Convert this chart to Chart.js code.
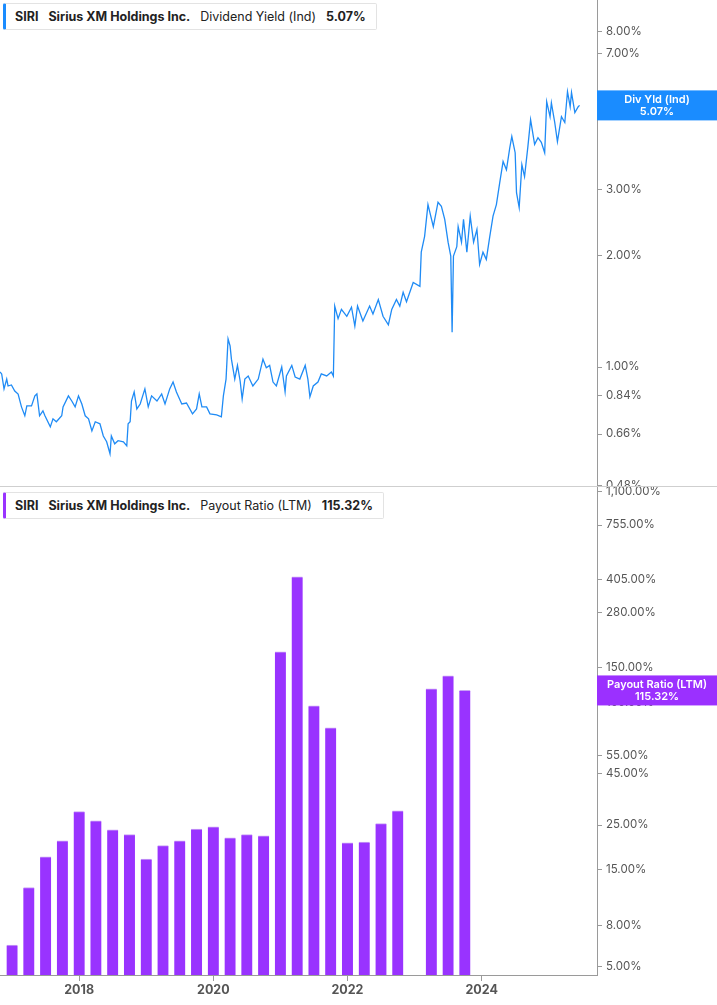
<!DOCTYPE html>
<html>
<head>
<meta charset="utf-8">
<script src="https://cdn.jsdelivr.net/npm/chart.js@4.4.1/dist/chart.umd.min.js"></script>
<style>
  body { margin: 0; background: #fff; font-family: Inter, "Noto Sans", sans-serif; }
  .pane { position: absolute; left: 0; width: 717px; }
  #top { top: 0; height: 487px; border-bottom: 1px solid #cfcfcf; box-sizing: border-box; }
  #bottom { top: 487px; height: 518px; }
  .legend { position: absolute; left: 3px; height: 25px; padding: 0 10px 0 9px; border: 1px solid #e3e3e3;
            border-left: 3px solid #1a8cff; border-radius: 2px; background: #fff; font-size: 12.5px; line-height: 25px;
            color: #222; white-space: nowrap; z-index: 2; }
  .legend b { font-weight: 700; margin-right: 10px; }
  .legend span { margin-right: 10px; }
</style>
</head>
<body>
<div class="pane" id="top"><canvas id="yieldChart"></canvas></div>
<div class="pane" id="bottom"><canvas id="payoutChart"></canvas></div>
<div class="legend" style="top:3px;"><b>SIRI</b><b>Sirius XM Holdings Inc.</b><span>Dividend Yield (Ind)</span><b style="margin-right:0">5.07%</b></div>
<div class="legend" style="top:492px;border-left-color:#9933ff;"><b>SIRI</b><b>Sirius XM Holdings Inc.</b><span>Payout Ratio (LTM)</span><b style="margin-right:0">115.32%</b></div>
<script>
// Dividend yield (%), dates as decimal years
const yieldDates = [2016.82,2016.845,2016.88,2016.92,2016.94,2016.99,2017.04,2017.09,2017.14,2017.19,2017.22,2017.29,2017.34,2017.37,2017.41,2017.46,2017.49,2017.57,2017.61,2017.66,2017.74,2017.76,2017.84,2017.89,2017.94,2017.99,
  2018.04,2018.09,2018.14,2018.19,2018.24,2018.31,2018.36,2018.41,2018.46,2018.48,2018.53,2018.58,2018.66,2018.71,2018.73,2018.76,2018.78,2018.82,2018.86,2018.91,2018.98,
  2019.03,2019.08,2019.16,2019.23,2019.28,2019.35,2019.40,2019.45,2019.53,2019.60,2019.69,2019.75,2019.79,2019.83,2019.90,2019.95,
  2020.05,2020.12,2020.15,2020.19,2020.22,2020.25,2020.27,2020.32,2020.36,2020.40,2020.43,2020.47,2020.52,2020.59,2020.67,2020.74,2020.79,2020.84,2020.89,2020.94,
  2021.02,2021.07,2021.09,2021.17,2021.22,2021.29,2021.37,2021.41,2021.44,2021.49,2021.56,2021.61,2021.69,2021.76,2021.79,2021.81,2021.86,2021.91,2021.99,
  2022.06,2022.11,2022.15,2022.23,2022.33,2022.38,2022.46,2022.53,2022.61,2022.66,2022.73,2022.78,2022.83,2022.88,2022.98,
  2023.08,2023.10,2023.15,2023.20,2023.28,2023.35,2023.40,2023.45,2023.50,2023.54,2023.56,2023.58,2023.63,2023.65,2023.70,2023.73,2023.78,2023.83,2023.88,2023.93,2023.97,
  2024.02,2024.07,2024.12,2024.17,2024.22,2024.27,2024.32,2024.37,2024.42,2024.45,2024.50,2024.52,2024.56,2024.60,2024.64,2024.69,2024.73,2024.79,2024.84,2024.89,2024.94,2024.97,
  2025.02,2025.04,2025.09,2025.13,2025.19,2025.24,2025.28,2025.32,2025.34,2025.39,2025.44,2025.46];
const yieldValues = [0.97,0.958,0.873,0.928,0.889,0.895,0.862,0.846,0.781,0.739,0.786,0.786,0.836,0.846,0.739,0.762,0.739,0.690,0.725,0.712,0.739,0.781,0.836,0.810,0.781,0.836,
  0.795,0.739,0.725,0.673,0.712,0.703,0.652,0.629,0.584,0.652,0.621,0.633,0.629,0.613,0.703,0.712,0.810,0.857,0.771,0.795,0.873,
  0.781,0.836,0.810,0.846,0.795,0.873,0.911,0.857,0.795,0.800,0.748,0.771,0.846,0.781,0.781,0.748,
  0.743,0.734,0.836,0.928,1.19,1.14,1.05,0.928,1.01,0.917,0.820,0.928,0.946,0.889,0.928,1.05,0.995,1.01,0.911,0.889,
  1.00,0.857,0.946,1.01,0.940,0.928,1.01,0.928,0.831,0.889,0.911,0.958,0.946,0.97,0.946,1.46,1.35,1.43,1.37,
  1.45,1.29,1.46,1.33,1.46,1.39,1.52,1.37,1.30,1.43,1.52,1.46,1.59,1.50,1.69,
  1.65,2.04,2.25,2.74,2.39,2.78,2.71,2.50,2.17,1.99,1.24,1.99,2.11,2.39,2.17,2.50,2.04,2.55,2.17,2.35,1.89,
  2.04,1.95,2.24,2.55,2.74,3.14,3.58,3.40,3.90,4.18,3.78,2.95,2.69,3.51,3.26,3.93,4.64,3.98,4.15,4.03,3.78,5.19,
  4.73,5.15,4.56,4.05,4.73,4.56,5.52,5.03,5.49,4.85,5.03,5.07];

// Payout ratio (%), quarterly, centred on quarter ends
const payoutDates = [2017.0,2017.25,2017.5,2017.75,2018.0,2018.25,2018.5,2018.75,2019.0,2019.25,2019.5,2019.75,2020.0,2020.25,2020.5,2020.75,
  2021.0,2021.25,2021.5,2021.75,2022.0,2022.25,2022.5,2022.75,2023.0,2023.25,2023.5,2023.75];
const payoutValues = [6.4,12.3,17.4,20.9,29.1,26.2,23.7,22.4,17.0,19.8,20.9,23.9,24.5,21.6,22.4,22.1,
  178.7,419,96.8,75.4,20.4,20.6,25.4,29.4,null,117.4,136,115.32];

const yieldTicks = [0.48,0.66,0.84,1,2,3,5,7,8];
const payoutTicks = [5,8,15,25,45,55,100,150,280,405,755,1100];
const yearTicks = [2018,2020,2022,2024];

const xMin = 2016.82, xMax = 2025.72;
const axisColor = '#9a9a9a';

function pct(v) {
  return v.toLocaleString('en-US', {minimumFractionDigits: 2, maximumFractionDigits: 2}) + '%';
}

function lastValueBox(label, value, color) {
  return {
    id: 'lastBox',
    afterDraw(chart) {
      const c = chart.ctx, y = chart.scales.y.getPixelForValue(value);
      const x0 = chart.chartArea.right;
      c.save();
      c.fillStyle = color;
      c.fillRect(x0, y - 15, chart.width - x0, 30);
      c.fillStyle = '#fff';
      c.textAlign = 'center';
      c.textBaseline = 'middle';
      c.font = '600 11px Inter, sans-serif';
      const mid = x0 + (chart.width - x0) / 2;
      c.fillText(label, mid, y - 6);
      c.fillText(pct(value), mid, y + 6);
      c.restore();
    }
  };
}

function yAxis(min, max, ticks) {
  return {
    type: 'logarithmic', position: 'right', min: min, max: max,
    border: { color: axisColor },
    grid: { drawOnChartArea: false, tickLength: 5, color: axisColor },
    afterBuildTicks: s => { s.ticks = ticks.map(v => ({ value: v })); },
    afterFit: s => { s.width = 120; s.paddingTop = 0; s.paddingBottom = 0; },
    ticks: { color: '#555', font: { size: 11.5, family: 'Inter' }, padding: 4, autoSkip: false, callback: v => pct(v) }
  };
}

new Chart(document.getElementById('yieldChart'), {
  type: 'line',
  data: {
    datasets: [{
      data: yieldDates.map((d, i) => ({ x: d, y: yieldValues[i] })),
      borderColor: '#1f8bf5', borderWidth: 1.3, pointRadius: 0, tension: 0
    }]
  },
  options: {
    responsive: true, maintainAspectRatio: false, animation: false,
    layout: { padding: { top: -8, bottom: -7 } },
    plugins: { legend: { display: false }, tooltip: { enabled: false } },
    scales: {
      x: { type: 'linear', min: xMin, max: xMax, display: false },
      y: yAxis(0.478, 9.75, yieldTicks)
    }
  },
  plugins: [lastValueBox('Div Yld (Ind)', 5.07, '#1a8cff')]
});

new Chart(document.getElementById('payoutChart'), {
  type: 'bar',
  data: {
    datasets: [{
      data: payoutDates.map((d, i) => ({ x: d, y: payoutValues[i] })),
      backgroundColor: '#9933ff', borderColor: '#c9a3f5', borderWidth: { top: 1 }, barThickness: 11
    }]
  },
  options: {
    responsive: true, maintainAspectRatio: false, animation: false,
    layout: { padding: { top: -8 } },
    plugins: { legend: { display: false }, tooltip: { enabled: false } },
    scales: {
      x: {
        type: 'linear', min: xMin, max: xMax, offset: false,
        border: { color: axisColor },
        grid: { drawOnChartArea: false, tickLength: 6, color: axisColor, offset: false },
        afterBuildTicks: s => { s.ticks = yearTicks.map(v => ({ value: v })); },
        afterFit: s => { s.height = 30; },
        ticks: { color: '#555', font: { size: 12.5, weight: 'bold', family: 'Inter' }, padding: 2, callback: v => String(v) }
      },
      y: yAxis(4.55, 1163, payoutTicks)
    }
  },
  plugins: [lastValueBox('Payout Ratio (LTM)', 115.32, '#9b30ff')]
});
</script>
</body>
</html>
